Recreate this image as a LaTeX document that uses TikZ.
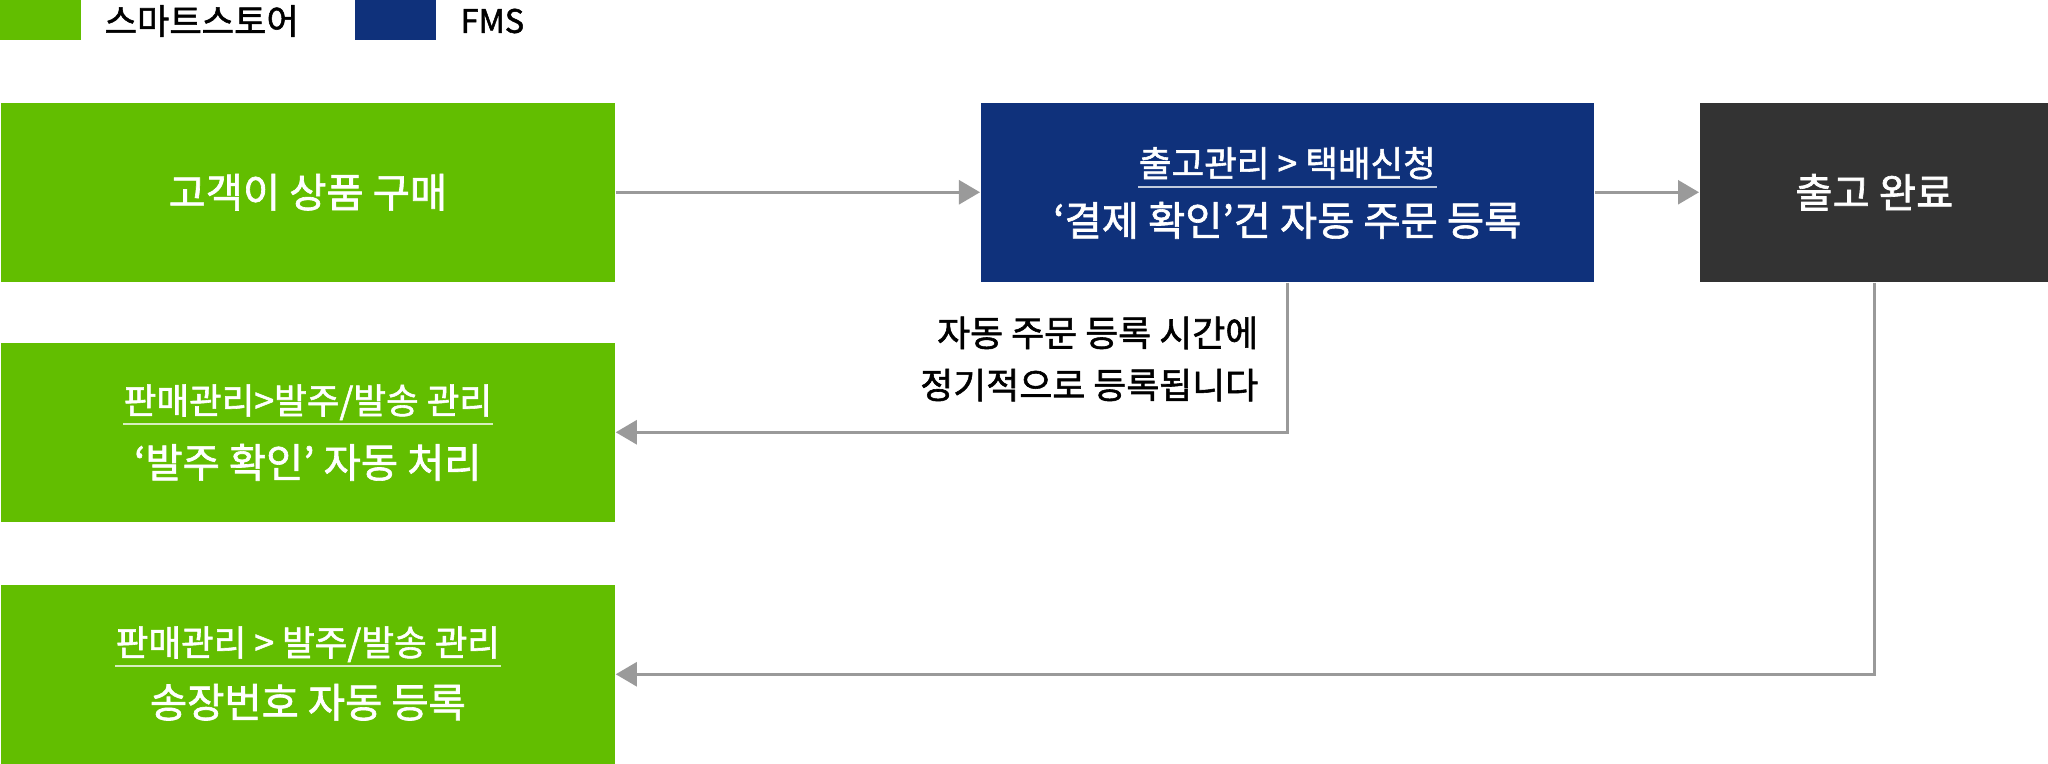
\documentclass[tikz,border=0pt]{standalone}
\usepackage{fontspec}
\setmainfont{Noto Sans CJK KR}[FakeBold=1.6]
\usepackage{xcolor}
\usetikzlibrary{arrows.meta, positioning}

\definecolor{storegreen}{HTML}{62BE00}
\definecolor{fmsblue}{HTML}{0F317B}
\definecolor{donegray}{HTML}{333333}
\definecolor{linkgray}{HTML}{9A9A9A}

\begin{document}
\begin{tikzpicture}[x=0.01cm, y=-0.01cm,
    box/.style={anchor=north west, minimum width=6.13cm, minimum height=1.79cm, inner sep=0pt, text=white},
    maintxt/.style={inner sep=0pt, text=white, font=\fontsize{11.5}{14}\selectfont},
    subtxt/.style={inner sep=0pt, text=white, font=\fontsize{10.1}{12}\selectfont},
    uline/.style={line width=0.02cm, white, opacity=0.75},
    link/.style={line width=0.025cm, linkgray, -{Triangle[length=0.21cm, width=0.24cm]}}]
    % Fix the page size
    \useasboundingbox (0,0) rectangle (2048,763);

    % Draw the legend
    \fill[storegreen] (0,0) rectangle (81,40);
    \node[anchor=west, inner sep=0pt, font=\fontsize{10}{12}\selectfont] (legstore) at (104,21) {스마트스토어};
    \fill[fmsblue] (355,0) rectangle (436,40);
    \node[anchor=west, inner sep=0pt, font=\fontsize{9.2}{12}\selectfont] (legfms) at (460,21) {FMS};

    % Draw the boxes
    \node[box, fill=storegreen, maintxt, minimum width=6.14cm, minimum height=1.79cm] (buy) at (0,102) {고객이 상품 구매};
    \node[box, fill=fmsblue, minimum width=6.13cm] (fms) at (980,102) {};
    \node[box, fill=donegray, maintxt, minimum width=3.49cm, minimum height=1.79cm] (done) at (1699,102) {출고 완료};
    \node[box, fill=storegreen, minimum width=6.14cm] (confirm) at (0,342) {};
    \node[box, fill=storegreen, minimum width=6.14cm] (invoice) at (0,584) {};

    % Add the texts inside the boxes
    \node[subtxt] (fmssub) at ([yshift=0.29cm]fms.center) {출고관리 > 택배신청};
    \node[maintxt] (fmsmain) at ([yshift=-0.28cm]fms.center) {‘결제 확인’건 자동 주문 등록};
    \node[subtxt] (confirmsub) at ([yshift=0.30cm]confirm.center) {판매관리>발주/발송 관리};
    \node[maintxt] (confirmmain) at ([yshift=-0.30cm]confirm.center) {‘발주 확인’ 자동 처리};
    \node[subtxt] (invoicesub) at ([yshift=0.30cm]invoice.center) {판매관리 > 발주/발송 관리};
    \node[maintxt] (invoicemain) at ([yshift=-0.28cm]invoice.center) {송장번호 자동 등록};

    % Underline the menu paths
    \foreach \s in {fmssub, confirmsub, invoicesub}
        \draw[uline] ([yshift=-0.1cm]\s.base west) -- ([yshift=-0.1cm]\s.base east);

    % Draw the connectors
    \draw[link] (buy.east) -- (fms.west);
    \draw[link] (fms.east) -- (done.west);
    \draw[link] (fms.south) |- (confirm.east);
    \draw[link] (done.south) |- (invoice.east);

    % Add the note
    \node[anchor=east, align=right, inner sep=0pt, font=\fontsize{10.2}{14.8}\selectfont] (note) at (1259,359) {자동 주문 등록 시간에\\정기적으로 등록됩니다};
\end{tikzpicture}
\end{document}
